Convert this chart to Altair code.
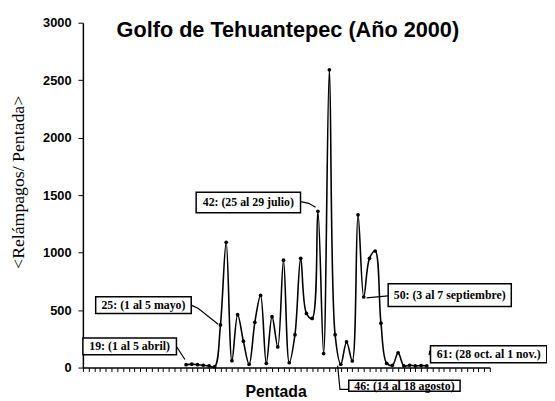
import altair as alt
import pandas as pd

# ---- data ----
pentadas = list(range(19, 62))
relampagos = [25, 30, 25, 20, 15, 8, 371, 1090, 60, 460, 230, 28,
              394, 628, 37, 443, 180, 934, 43, 286, 951, 471, 428, 1360,
              122, 2590, 286, 29, 223, 57, 1329, 614, 950, 1014, 386, 37,
              20, 128, 15, 20, 15, 18, 15]

y_ticks = [0, 500, 1000, 1500, 2000, 2500, 3000]
x_ticks = list(range(1, 73))

chart_title = "Golfo de Tehuantepec (Año 2000)"
x_title = "Pentada"
y_title = "<Relámpagos/ Pentada>"

ann_labels = ["19: (1 al 5  abril)", "25: (1 al 5 mayo)", "42: (25 al 29 julio)",
              "46: (14 al 18 agosto)", "50: (3 al 7 septiembre)", "61: (28 oct. al 1 nov.)"]

# ---- annotation layout (data units) ----
box_x1 = [1.0, 3.23, 20.76, 47.39, 54.26, 61.65]
box_x2 = [17.32, 19.9, 38.97, 66.81, 75.74, 81.93]
box_y1 = [257, 617, 1526, -111, 729, 189]
box_y2 = [111, 471, 1346, -206, 531, 43]

leaders = [
    [(17.3, 186), (18.8, 70)],
    [(19.9, 543), (21.15, 514), (24.6, 377)],
    [(39.0, 1443), (40.4, 1429), (41.6, 1395)],
    [(45.45, 17), (45.85, -189), (47.4, -189)],
    [(50.5, 606), (54.26, 623)],
    [(61.4, 109), (61.5, 143), (61.65, 143)],
]

df = pd.DataFrame({"p": pentadas, "v": relampagos})
boxes = pd.DataFrame({"x1": box_x1, "x2": box_x2, "y1": box_y1, "y2": box_y2,
                      "label": ann_labels})
boxes["xc"] = (boxes["x1"] + boxes["x2"]) / 2
boxes["yc"] = (boxes["y1"] + boxes["y2"]) / 2
lead_rows = []
for g, seg in enumerate(leaders):
    for i, (px, pv) in enumerate(seg):
        lead_rows.append({"g": g, "o": i, "p": px, "v": pv})
lead = pd.DataFrame(lead_rows)

xscale = alt.Scale(domain=[1, 72], nice=False, zero=False)
yscale = alt.Scale(domain=[0, 3000], nice=False)

x_axis = alt.Axis(values=x_ticks, labels=False, grid=False, tickSize=4, tickWidth=1,
                  tickColor="black", domainColor="black", domainWidth=1.5,
                  title=x_title, titleFont="Liberation Sans", titleFontSize=16,
                  titleFontWeight="bold", titleColor="black", titleX=195.5, titleY=29,
                  titleAlign="center", titleBaseline="alphabetic")
y_axis = alt.Axis(values=y_ticks, format="d", grid=False, labelFont="Liberation Sans",
                  labelFontWeight="bold", labelFontSize=13, labelColor="black",
                  labelPadding=7, tickSize=5, tickColor="black", tickWidth=1,
                  domainColor="black", domainWidth=1.5, title=None)


def X(field):
    return alt.X(field, scale=xscale, axis=x_axis, title=x_title)


def Y(field):
    return alt.Y(field, scale=yscale, axis=y_axis, title=None)


line = alt.Chart(df).mark_line(color="black", strokeWidth=1.6,
                               interpolate="catmull-rom").encode(
    x=X("p:Q"), y=Y("v:Q"),
)
pts = alt.Chart(df).mark_point(filled=True, color="black", size=14, opacity=1).encode(
    x=X("p:Q"), y=Y("v:Q"),
)
lead_layer = alt.Chart(lead).mark_line(color="black", strokeWidth=1.2, clip=False).encode(
    x=X("p:Q"), y=Y("v:Q"),
    detail="g:N",
    order="o:Q",
)
box_layer = alt.Chart(boxes).mark_rect(fill="white", stroke="black", strokeWidth=1.5,
                                       clip=False).encode(
    x=X("x1:Q"), x2="x2:Q",
    y=Y("y1:Q"), y2="y2:Q",
)
txt_layer = alt.Chart(boxes).mark_text(font="Liberation Serif", fontSize=12,
                                       fontWeight="bold", color="black",
                                       baseline="middle", align="center").encode(
    x=X("xc:Q"), y=Y("yc:Q"),
    text="label:N",
)
title_layer = alt.Chart(pd.DataFrame({"t": [chart_title]})).mark_text(
    font="Liberation Sans", fontSize=22, fontWeight="bold", color="black",
    baseline="alphabetic", align="center").encode(
    x=alt.value(208), y=alt.value(15), text="t:N")
ytitle_layer = alt.Chart(pd.DataFrame({"t": [y_title]})).mark_text(
    font="Liberation Serif", fontSize=18, color="black", angle=270,
    baseline="middle", align="center").encode(
    x=alt.value(-65), y=alt.value(162), text="t:N")

chart = alt.layer(line, pts, lead_layer, box_layer, txt_layer, title_layer,
                  ytitle_layer).properties(
    width=413, height=350, autosize="none",
    padding={"left": 76, "top": 12, "right": 58, "bottom": 31},
).configure_view(stroke=None)

chart.save("out.html", embed_options={"renderer": "svg", "actions": False})
